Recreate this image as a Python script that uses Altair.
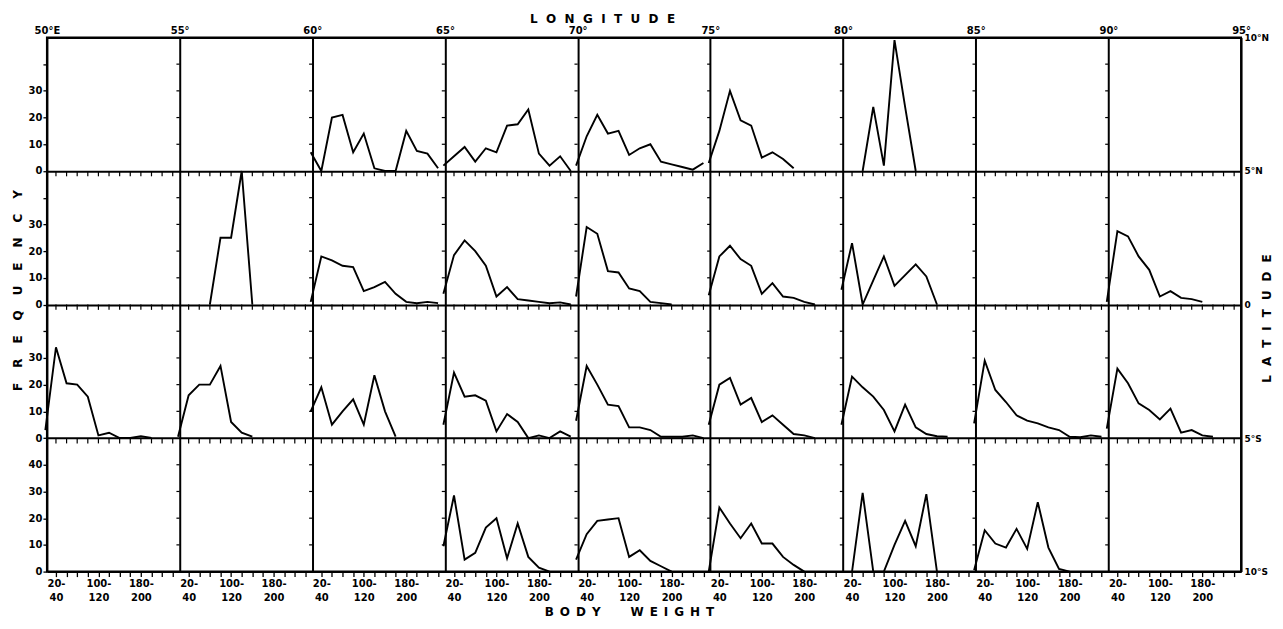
import altair as alt
import pandas as pd

# ---------------- structural labels ----------------
LONGITUDES = ["50°E", "55°", "60°", "65°", "70°", "75°", "80°", "85°", "90°", "95°"]
LATITUDES_BOTTOM_UP = ["10°S", "5°S", "0", "5°N", "10°N"]
CLASS_LABELS = {30: ["20-", "40"], 110: ["100-", "120"], 190: ["180-", "200"]}

# ---------------- frequencies by body-weight class ----------------
# class j covers 20j..20j+20 (plotted at its mid-point); lists start at the class given in PANELS
# latitude band 5°N - 10°N
N10_60 = [7, 0, 20, 21, 7, 14, 1, 0, 0, 15, 7.5, 6.5, 1]
N10_65 = [2, 5.5, 9, 3.5, 8.5, 7, 17, 17.5, 23, 6.5, 2, 5.5, 0]
N10_70 = [2, 13, 21, 14, 15, 6, 8.5, 10, 3.5, 2.5, 1.5, 0.5, 3]
N10_75 = [3, 15, 30, 19, 17, 5, 7, 4.5, 1]
N10_80 = [0, 24, 2, 49, 24, 0]
# latitude band 0 - 5°N
N05_55 = [0, 25, 25, 50, 0]
N05_60 = [1, 18, 16.5, 14.5, 14, 5, 6.5, 8.5, 4, 1, 0.5, 1, 0.5]
N05_65 = [4, 18.5, 24, 20, 14.5, 3, 6.5, 2, 1.5, 1, 0.5, 0.8, 0]
N05_70 = [3, 29, 26.5, 12.5, 12, 6, 5, 1, 0.5, 0]
N05_75 = [3.5, 18, 22, 17, 14.5, 4, 8, 3, 2.5, 1, 0]
N05_80 = [5.5, 23, 0, 9, 18, 7, 11, 15, 10.5, 0]
N05_90 = [1, 27.5, 25.5, 18, 13, 3, 5, 2.5, 2, 1]
# latitude band 0 - 5°S
S05_50 = [3, 34, 20.5, 20, 15.5, 1, 2, 0, 0, 0.7, 0]
S05_55 = [0.5, 16, 20, 20, 27, 6, 2, 0.5]
S05_60 = [10, 19, 5, 10, 14.5, 5, 23.5, 10, 0.5]
S05_65 = [5, 24.5, 15.5, 16, 14, 2.5, 9, 6, 0, 1, 0, 2.5, 0.5]
S05_70 = [6.5, 27, 20, 12.5, 12, 4, 4, 3, 0.5, 0.5, 0.5, 1, 0]
S05_75 = [5, 20, 22.5, 12.5, 15, 6, 8.5, 5, 1.5, 1, 0]
S05_80 = [5, 23, 19, 15.5, 10.5, 2.5, 12.5, 4, 1.5, 0.7, 0.5]
S05_85 = [5.5, 29, 18, 13.5, 8.5, 6.5, 5.5, 4, 3, 0.5, 0.3, 1, 0.5]
S05_90 = [3.5, 26, 20.5, 13, 10.5, 7, 11, 2, 3, 1, 0.5]
# latitude band 5°S - 10°S
S10_65 = [9.5, 28.5, 4.5, 7, 16.5, 20, 5, 18, 5.5, 1.5, 0]
S10_70 = [4.5, 14, 19, 19.5, 20, 5.5, 8, 4, 2, 0]
S10_75 = [0, 24, 18, 12.5, 18, 10.5, 10.5, 5.5, 2.5, 0]
S10_80 = [0, 29.5, 0, 0, 10, 19, 9.5, 29, 0]
S10_85 = [0.5, 15.5, 10.5, 9, 16, 8.5, 26, 9, 1, 0]

# (longitude band index, latitude band index from top, first class index, frequencies)
PANELS = [
    (2, 0, 0, N10_60), (3, 0, 0, N10_65), (4, 0, 0, N10_70), (5, 0, 0, N10_75), (6, 0, 2, N10_80),
    (1, 1, 3, N05_55), (2, 1, 0, N05_60), (3, 1, 0, N05_65), (4, 1, 0, N05_70), (5, 1, 0, N05_75),
    (6, 1, 0, N05_80), (8, 1, 0, N05_90),
    (0, 2, 0, S05_50), (1, 2, 0, S05_55), (2, 2, 0, S05_60), (3, 2, 0, S05_65), (4, 2, 0, S05_70),
    (5, 2, 0, S05_75), (6, 2, 0, S05_80), (7, 2, 0, S05_85), (8, 2, 0, S05_90),
    (3, 3, 0, S10_65), (4, 3, 0, S10_70), (5, 3, 0, S10_75), (6, 3, 1, S10_80), (7, 3, 0, S10_85),
]

# ---------------- layout of the panel grid (in data units) ----------------
SPAN = 250          # body-weight units per longitude panel
START = 13          # body weight at a panel's left border
ROW = 50            # frequency units per latitude panel
NCOL, NROW = 9, 4

rows = []
for lon, lat, first, vals in PANELS:
    for i, f in enumerate(vals):
        j = first + i
        rows.append({
            "panel": f"{lon}-{lat}",
            "X": lon * SPAN + 10 + 20 * j,
            "Y": (NROW - 1 - lat) * ROW + f,
        })
df_lines = pd.DataFrame(rows)

tick_rows = []
for lat in range(NROW - 1):
    base = (NROW - 1 - lat) * ROW
    for lon in range(NCOL):
        for k in range(12):
            x = lon * SPAN + 30 + 20 * k
            tick_rows.append({"x": x, "x2": x, "y": base, "y2": base - 2})
for lon in range(1, NCOL):
    bx = lon * SPAN + START
    for lat in range(NROW):
        for v in (10, 20, 30, 40):
            tick_rows.append({"x": bx - 6, "x2": bx, "y": lat * ROW + v, "y2": lat * ROW + v})
df_ticks = pd.DataFrame(tick_rows)

xscale = alt.Scale(domain=[START, START + NCOL * SPAN], nice=False, zero=False)
yscale = alt.Scale(domain=[0, NROW * ROW], nice=False, zero=False)


def spaced(text, gap):
    return gap.join(list(text))


FONT = "DejaVu Sans"

bottom_values = [lon * SPAN + 30 + 20 * k for lon in range(NCOL) for k in range(12)]
bottom_expr = ""
for key, lab in CLASS_LABELS.items():
    bottom_expr += f"(datum.value % {SPAN} == {key}) ? ['{lab[0]}', '{lab[1]}'] : "
bottom_expr += "''"

left_values = [lat * ROW + v for lat in range(NROW) for v in (0, 10, 20, 30, 40)]
left_expr = f"datum.value == 40 ? '40' : (datum.value % {ROW} == 40 ? '' : '' + (datum.value % {ROW}))"

top_values = [START + lon * SPAN for lon in range(NCOL + 1)]
top_expr = "[" + ",".join(f"'{s}'" for s in LONGITUDES) + f"][round((datum.value - {START}) / {SPAN})]"

right_values = [r * ROW for r in range(NROW + 1)]
right_expr = "[" + ",".join(f"'{s}'" for s in LATITUDES_BOTTOM_UP) + f"][round(datum.value / {ROW})]"

x_bottom = alt.Axis(
    orient="bottom", values=bottom_values, labelExpr=bottom_expr, grid=False, domain=False,
    tickSize=5, tickWidth=1.3, tickColor="black", labelFontSize=10, labelFontWeight="bold",
    labelLineHeight=14, labelPadding=2, labelFlush=False, labelOverlap=False,
    title="B\u2002O\u2002D\u2002Y\u2003\u2003\u2002W\u2002E\u2002I\u2002G\u2002H\u2002T",
    titleFontSize=12, titleFontWeight="bold", titleX=583, titleY=40, titleBaseline="middle",
)
y_left = alt.Axis(
    orient="left", values=left_values, labelExpr=left_expr, grid=False, domain=False,
    tickSize=4, tickWidth=1.3, tickColor="black", labelFontSize=10, labelFontWeight="bold",
    labelPadding=1, labelFlush=False, labelOverlap=False,
    title=spaced("FREQUENCY", "\u2003\u2005"), titleFontSize=12, titleFontWeight="bold",
    titleAngle=270, titleX=-29, titleY=253, titleAlign="center", titleBaseline="middle",
)
x_top = alt.Axis(
    orient="top", values=top_values, labelExpr=top_expr, ticks=False, domain=False,
    grid=True, gridColor="black", gridWidth=2, gridOpacity=1,
    labelFontSize=10, labelFontWeight="bold", labelPadding=2, labelFlush=False, labelOverlap=False,
    title=spaced("LONGITUDE", "\u2002\u2009"), titleFontSize=12, titleFontWeight="bold",
    titleX=556, titleY=-19, titleBaseline="middle",
)
y_right = alt.Axis(
    orient="right", values=right_values, labelExpr=right_expr, ticks=False, domain=False,
    grid=True, gridColor="black", gridWidth=2, gridOpacity=1,
    labelFontSize=9, labelFontWeight="bold", labelPadding=3, labelFlush=False, labelOverlap=False,
    title=spaced("LATITUDE", "\u2002\u2005"), titleFontSize=12, titleFontWeight="bold",
    titleAngle=270, titleX=25, titleY=281, titleAlign="center", titleBaseline="middle",
)

ticks = alt.Chart(df_ticks).mark_rule(color="black", strokeWidth=1.2).encode(
    x=alt.X("x:Q", scale=xscale, axis=x_top),
    x2="x2:Q",
    y=alt.Y("y:Q", scale=yscale, axis=y_right),
    y2="y2:Q",
)

lines = alt.Chart(df_lines).mark_line(color="black", strokeWidth=1.9).encode(
    x=alt.X("X:Q", scale=xscale, axis=x_bottom),
    y=alt.Y("Y:Q", scale=yscale, axis=y_left),
    detail="panel:N",
    order="X:Q",
)

chart = (
    alt.layer(ticks, lines)
    .resolve_axis(x="independent", y="independent")
    .properties(
        width=1196, height=535,
        autosize=alt.AutoSizeParams(type="none"),
        padding={"left": 39, "top": 29, "right": 34, "bottom": 50},
        background="white",
    )
    .configure(font=FONT)
    .configure_axis(labelColor="black", titleColor="black", labelFont=FONT, titleFont=FONT)
    .configure_view(stroke="black", strokeWidth=2)
)

chart.save("out.html", embed_options={"renderer": "svg", "actions": False})
